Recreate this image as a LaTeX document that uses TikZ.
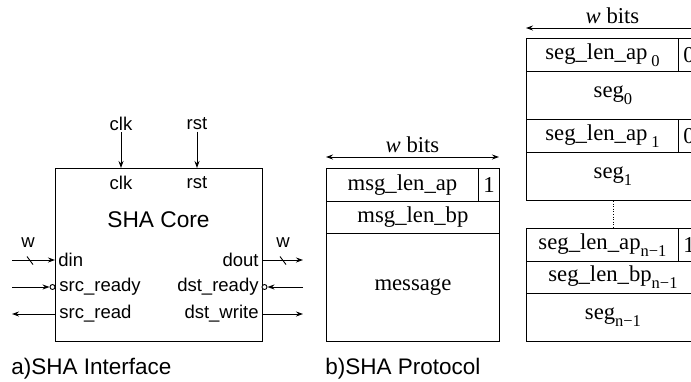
\documentclass[tikz,border=0pt]{standalone}
\usepackage{fontspec}
\setmainfont{Liberation Serif}
\newfontfamily\helv{Liberation Sans}
\usetikzlibrary{arrows.meta}
\usetikzlibrary{positioning}

\newcommand\lowsub[1]{\raisebox{-0.32em}{\fontsize{16.5}{17}\selectfont #1}}

\begin{document}
\begin{tikzpicture}[x=1pt, y=-1pt, line width=0.9pt,
port/.style={font=\helv\fontsize{18.5}{20}\selectfont, inner sep=1pt},
field/.style={draw, anchor=north west, inner sep=0pt, font=\fontsize{22.7}{24}\selectfont},
sig/.style={>={Stealth[length=7pt,width=5pt]}, ->},
span/.style={>={Stealth[length=7pt,width=5pt]}, <->},
bubble/.style={circle, draw, fill=white, inner sep=0pt, minimum size=5pt}]

\useasboundingbox (0,0) rectangle (691,381);
\clip (0,0) rectangle (691,381);

\def\cw{152}  % field width
\def\bw{21}   % flag bit width
\def\rh{33}   % short row
\def\sh{48}   % segment row

% SHA CORE
\node[draw, anchor=north west, minimum width=207, minimum height=173] (core) at (55,168) {};
\node[font=\helv\fontsize{22.7}{24}\selectfont] (title) at (158.5,220) {SHA Core};
\node[port] (clk) at (121,183) {clk};
\node[port] (rst) at (197,183) {rst};
\node[port, anchor=west] (din) at (57,260) {din};
\node[port, anchor=west] (srcready) at (58,287) {src\_ready};
\node[port, anchor=west] (srcread) at (58,314) {src\_read};
\node[port, anchor=east] (dout) at (260,260) {dout};
\node[port, anchor=east] (dstready) at (260,287) {dst\_ready};
\node[port, anchor=east] (dstwrite) at (260,314) {dst\_write};

% clock and reset
\node[port] (clkin) at (121,124) {clk};
\node[port] (rstin) at (197,124) {rst};
\draw[sig] (clkin) -- (clkin |- core.north);
\draw[sig] (rstin) -- (rstin |- core.north);

% left side
\coordinate (dinL) at (12,260);
\coordinate (srcreadyL) at (12,287);
\coordinate (srcreadL) at (12,314);
\node[bubble] (bubL) at (52.5,287) {};
\draw[sig] (dinL) -- (dinL -| core.west);
\draw[sig] (srcreadyL) -- (bubL);
\draw[sig] (srcreadL -| core.west) -- (srcreadL);
\draw (27,256.5) -- (33,264.5);
\node[port] (wL) at (28,243) {w};

% right side
\coordinate (doutR) at (303,260);
\coordinate (dstreadyR) at (303,287);
\coordinate (dstwriteR) at (303,314);
\node[bubble] (bubR) at (264.5,287) {};
\draw[sig] (doutR -| core.east) -- (doutR);
\draw[sig] (dstreadyR) -- (bubR);
\draw[sig] (dstwriteR -| core.east) -- (dstwriteR);
\draw (280,256.5) -- (286,264.5);
\node[port] (wR) at (283,243) {w};

% protocol
\node[field, minimum width=\cw, minimum height=\rh] (msgap) at (326,168) {msg\_len\_ap};
\node[field, minimum width=\bw, minimum height=\rh] (msgflag) at (478,168) {1};
\node[field, minimum width=\cw+\bw, minimum height=\rh-1] (msgbp) at (326,201) {msg\_len\_bp};
\node[field, minimum width=\cw+\bw, minimum height=108] (msg) at (326,233) {message};
\node[font=\fontsize{22.7}{24}\selectfont] (bitsb) at (412.5,145) {\textit{w} bits};
\draw[span] (326,157) -- (499,157);

% segmented protocol
\node[field, minimum width=\cw, minimum height=\rh] (ap0) at (526,38) {seg\_len\_ap\,\lowsub{0}};
\node[field, minimum width=\bw, minimum height=\rh] (flag0) at (678,38) {0};
\node[field, minimum width=\cw+\bw, minimum height=\sh] (seg0) at (526,71) {seg\lowsub{0}};
\node[field, minimum width=\cw, minimum height=\rh] (ap1) at (526,119) {seg\_len\_ap\,\lowsub{1}};
\node[field, minimum width=\bw, minimum height=\rh] (flag1) at (678,119) {0};
\node[field, minimum width=\cw+\bw, minimum height=\sh] (seg1) at (526,152) {seg\lowsub{1}};
\node[field, minimum width=\cw, minimum height=\rh] (apn) at (526,228) {seg\_len\_ap\lowsub{n\textminus1}};
\node[field, minimum width=\bw, minimum height=\rh] (flagn) at (678,228) {1};
\node[field, minimum width=\cw+\bw, minimum height=\rh-1] (bpn) at (526,261) {seg\_len\_bp\lowsub{n\textminus1}};
\node[field, minimum width=\cw+\bw, minimum height=\sh] (segn) at (526,293) {seg\lowsub{n\textminus1}};
\draw[dotted, line width=0.6pt] (seg1.south) -- (seg1.south |- apn.north);
\node[font=\fontsize{22.7}{24}\selectfont] (bitsc) at (612.5,16) {\textit{w} bits};
\draw[span] (526,28) -- (699,28);

% captions
\node[port, font=\helv\fontsize{22.5}{24}\selectfont, anchor=base west] (capa) at (10,374) {a)SHA Interface};
\node[port, font=\helv\fontsize{22.5}{24}\selectfont, anchor=base west] (capb) at (324,374) {b)SHA Protocol};

\end{tikzpicture}
\end{document}
